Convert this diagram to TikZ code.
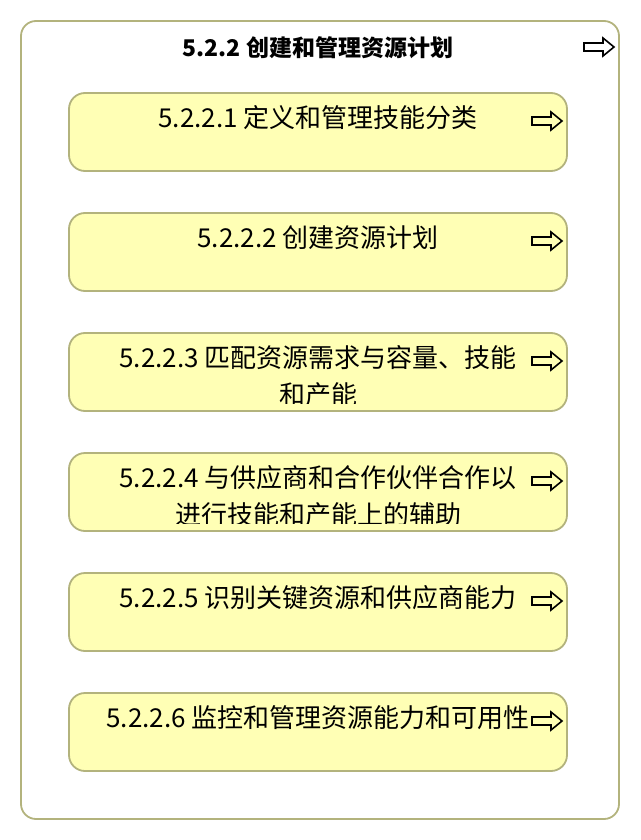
\documentclass[tikz,border=0pt]{standalone}
\usepackage{fontspec}
\setmainfont{Noto Sans CJK SC}
\usetikzlibrary{positioning,calc}
\definecolor{boxfill}{HTML}{FFFFB5}
\definecolor{boxline}{HTML}{B3B37D}
\tikzset{
  group/.style={draw=boxline,line width=1.8pt,fill=white,rounded corners=15pt,minimum width=598pt,minimum height=798pt,inner sep=0pt},
  task/.style={draw=boxline,line width=1.8pt,fill=boxfill,rounded corners=16pt,minimum width=498pt,minimum height=78pt,inner sep=0pt},
  tasktext/.style={anchor=base,inner sep=0pt,font=\fontsize{26}{30}\selectfont},
  fwd/.pic={\draw[line width=1.6pt,line join=miter] (0,5) -- (19,5) -- (19,0) -- (30,9) -- (19,18) -- (19,13) -- (0,13) -- cycle;}
}

\begin{document}
\begin{tikzpicture}[x=1pt,y=-1pt]
\useasboundingbox (0,0) rectangle (640,840);
\node[group] (grp) at (320,420) {};
\node[anchor=base,inner sep=0pt,font=\fontsize{23}{28}\selectfont\bfseries] (title) at (318,57) {5.2.2 创建和管理资源计划};
\pic at (584,38) {fwd};

% tasks
\node[task] (a1) at (318,132) {};
\node[task] (a2) at (318,252) {};
\node[task] (a3) at (318,372) {};
\node[task] (a4) at (318,492) {};
\node[task] (a5) at (318,612) {};
\node[task] (a6) at (318,732) {};

\node[tasktext] (t1) at ($(a1.north)+(0,35)$) {5.2.2.1 定义和管理技能分类};
\node[tasktext] (t2) at ($(a2.north)+(0,35)$) {5.2.2.2 创建资源计划};
\begin{scope}
\clip (a3.north west) rectangle ($(a3.south east)+(0,-8)$);
\node[tasktext] (t3) at ($(a3.north)+(0,35)$) {5.2.2.3 匹配资源需求与容量、技能};
\node[tasktext] (t3b) at ($(t3.base)+(0,37)$) {和产能};
\end{scope}
\begin{scope}
\clip (a4.north west) rectangle ($(a4.south east)+(0,-8)$);
\node[tasktext] (t4) at ($(a4.north)+(0,35)$) {5.2.2.4 与供应商和合作伙伴合作以};
\node[tasktext] (t4b) at ($(t4.base)+(0,37)$) {进行技能和产能上的辅助};
\end{scope}
\node[tasktext] (t5) at ($(a5.north)+(0,35)$) {5.2.2.5 识别关键资源和供应商能力};
\node[tasktext] (t6) at ($(a6.north)+(0,35)$) {5.2.2.6 监控和管理资源能力和可用性};

\pic at (532,112) {fwd};
\pic at (532,232) {fwd};
\pic at (532,352) {fwd};
\pic at (532,472) {fwd};
\pic at (532,592) {fwd};
\pic at (532,712) {fwd};
\end{tikzpicture}
\end{document}
